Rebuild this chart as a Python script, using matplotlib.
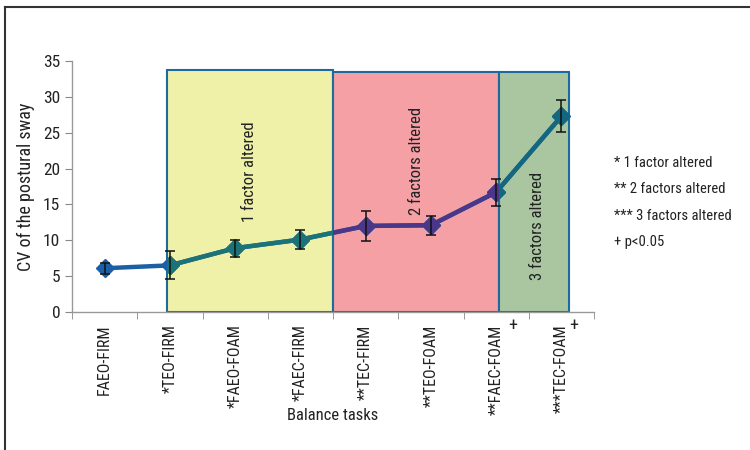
import matplotlib
matplotlib.use('Agg')
import matplotlib.pyplot as plt
from matplotlib.patches import Rectangle
from matplotlib.lines import Line2D
from matplotlib import font_manager
import numpy as np

# data
tasks = ['FAEO-FIRM', '*TEO-FIRM', '*FAEO-FOAM', '*FAEC-FIRM',
         '**TEC-FIRM', '**TEO-FOAM', '**FAEC-FOAM', '***TEC-FOAM']
cv_mean = [6.1, 6.5, 8.9, 10.1, 12.0, 12.1, 16.7, 27.3]
cv_err = [0.75, 1.95, 1.2, 1.35, 2.1, 1.3, 1.9, 2.2]
significant = [6, 7]          # indices marked with "+"
plus_offset = [0.25, 0.19]

# shaded groups
group_labels = ['1 factor altered', '2 factors altered', '3 factors altered']
group_x0 = [0.95, 3.5, 6.05]
group_x1 = [3.5, 6.05, 7.12]
group_top = [33.7, 33.5, 33.5]
group_fill = ['#eff1a9', '#f4a0a5', '#a9c6a1']
group_line = ['#1c7377', '#4a3788', '#13677f']
group_label_y = [19.5, 21.0, 12.0]

legend_lines = ['* 1 factor altered', '** 2 factors altered',
                '*** 3 factors altered', '+ p<0.05']

names = {f.name for f in font_manager.fontManager.ttflist}
fam = [n for n in ['Liberation Sans Narrow', 'Roboto Condensed', 'Open Sans Condensed']
       if n in names] + ['DejaVu Sans']
plt.rcParams['font.family'] = fam
plt.rcParams['font.stretch'] = 'condensed'

fig = plt.figure(figsize=(7.5, 4.5), dpi=100)
ax = fig.add_axes([0.096, 0.3067, 0.696, 0.5577])

x = np.arange(len(tasks))
base_color = '#1b5fa6'

# group rectangles
rects = []
for x0, x1, top, fc in zip(group_x0, group_x1, group_top, group_fill):
    r = Rectangle((x0, 0), x1 - x0, top, facecolor=fc, edgecolor='#1d6a9c',
                  linewidth=1.5, zorder=1)
    ax.add_patch(r)
    rects.append(r)

for x0, x1, lab, ly in zip(group_x0, group_x1, group_labels, group_label_y):
    ax.text((x0 + x1) / 2 + (0.05 if lab.startswith('3') else 0), ly, lab,
            rotation=90, ha='center', va='center', fontsize=12,
            color='#222222', zorder=3)

# base line (outside boxes)
ax.plot(x, cv_mean, color=base_color, linewidth=3.2, marker='D',
        markersize=9, markeredgecolor=base_color, zorder=4)
# recoloured line inside each box
for r, lc in zip(rects, group_line):
    clip = Rectangle(r.get_xy(), r.get_width(), r.get_height(),
                     transform=ax.transData)
    ln, = ax.plot(x, cv_mean, color=lc, linewidth=3.2, marker='D',
                  markersize=9, markerfacecolor=lc, markeredgecolor=lc,
                  zorder=5)
    ln.set_clip_path(clip)

ax.errorbar(x, cv_mean, yerr=cv_err, fmt='none', ecolor='#111111',
            elinewidth=1.1, capsize=3.5, capthick=1.1, zorder=6)

# axes styling
ax.set_xlim(-0.5, 7.5)
ax.set_ylim(0, 35)
ax.set_yticks(np.arange(0, 36, 5))
ax.set_xticks(x)
ax.set_xticklabels(tasks, rotation=90, fontsize=11.5, color='#222222')
ax.set_xticks(np.arange(-0.5, 8, 1), minor=True)
ax.tick_params(axis='x', which='major', length=0, pad=9)
ax.tick_params(axis='x', which='minor', length=5, color='#888888', direction='out')
ax.tick_params(axis='y', length=5, color='#888888', labelsize=12.5, labelcolor='#222222')
for s in ['top', 'right']:
    ax.spines[s].set_visible(False)
for s in ['left', 'bottom']:
    ax.spines[s].set_color('#999999')
    ax.spines[s].set_linewidth(1.0)

ax.set_ylabel('CV of the postural sway', fontsize=13, color='#222222', labelpad=6)
ax.set_xlabel('Balance tasks', fontsize=12, color='#222222', labelpad=-5)

# significance marks
for i, off in zip(significant, plus_offset):
    ax.text(i + off, -0.7, '+', ha='center', va='top', fontsize=13,
            color='#222222', zorder=7, clip_on=False)

# side notes
for k, t in enumerate(legend_lines):
    fig.text(0.818, 0.637 - k * 0.058, t, fontsize=10.5, color='#222222',
             va='center', ha='left')

# outer frame
fig.add_artist(Line2D([0.0067, 0.0067], [0, 0.985], color='#333333', linewidth=1.5))
fig.add_artist(Line2D([0.0067, 1.0], [0.985, 0.985], color='#333333', linewidth=1.5))

fig.savefig('out.png', dpi=100)
